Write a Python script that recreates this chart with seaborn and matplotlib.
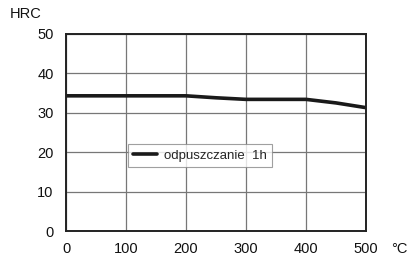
import seaborn as sns
import pandas as pd
import matplotlib.pyplot as plt

temperatura = [0, 100, 200, 250, 300, 400, 450, 500]
twardosc = [34.3, 34.3, 34.3, 33.8, 33.4, 33.4, 32.5, 31.3]
x_ticks = [0, 100, 200, 300, 400, 500]
y_ticks = [0, 10, 20, 30, 40, 50]

sns.set_style("white")
plt.rcParams['font.family'] = ['Liberation Sans', 'DejaVu Sans']

df = pd.DataFrame({'T': temperatura, 'HRC': twardosc})

fig = plt.figure(figsize=(4.08, 2.57), dpi=100)
ax = fig.add_axes([0.162, 0.101, 0.735, 0.767])

sns.lineplot(data=df, x='T', y='HRC', color='#1a1a1a', linewidth=2.6,
             label='odpuszczanie  1h', ax=ax)

ax.set_xlim(0, 500)
ax.set_ylim(0, 50)
ax.set_xticks(x_ticks)
ax.set_yticks(y_ticks)
ax.grid(True, color='#777777', linewidth=0.9)
for s in ax.spines.values():
    s.set_color('#222222')
    s.set_linewidth(1.4)
ax.tick_params(axis='both', direction='out', length=4, width=1, color='#333333',
               labelsize=10.5, labelcolor='#111111')
ax.tick_params(axis='x', pad=4)
ax.tick_params(axis='y', pad=5)
ax.set_xlabel('')
ax.set_ylabel('')

fig.text(0.025, 0.93, 'HRC', fontsize=10.5, color='#111111')
fig.text(0.958, 0.015, '°C', fontsize=10.5, color='#111111')

leg = ax.legend(loc='upper left', bbox_to_anchor=(0.185, 0.475), frameon=True,
                fancybox=False, fontsize=9.5, handlelength=1.8, borderpad=0.4,
                handletextpad=0.5)
leg.get_frame().set_edgecolor('#888888')
leg.get_frame().set_linewidth(0.8)

fig.savefig('out.png', dpi=100)
